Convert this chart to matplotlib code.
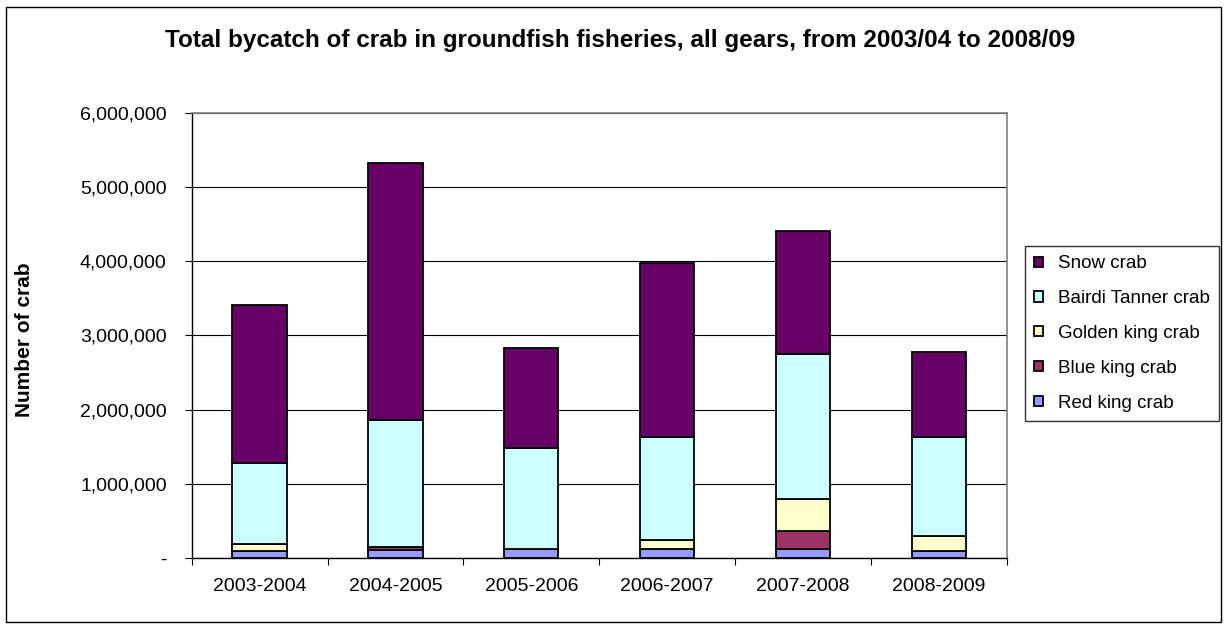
import matplotlib
matplotlib.use('Agg')
import matplotlib.pyplot as plt
import numpy as np
from matplotlib.ticker import FuncFormatter, FixedLocator
from matplotlib.patches import Rectangle

plt.rcParams['font.family'] = ['Liberation Sans', 'DejaVu Sans']

seasons = ['2003-2004', '2004-2005', '2005-2006', '2006-2007', '2007-2008', '2008-2009']
red_king = [98000, 111000, 125000, 121000, 121000, 98000]
blue_king = [0, 45000, 0, 0, 251000, 0]
golden_king = [98000, 0, 0, 126000, 431000, 202000]
bairdi = [1091000, 1710000, 1364000, 1390000, 1948000, 1337000]
snow = [2128000, 3452000, 1343000, 2335000, 1652000, 1141000]

series = [('Red king crab', red_king, '#9999FF'),
          ('Blue king crab', blue_king, '#993366'),
          ('Golden king crab', golden_king, '#FFFFCC'),
          ('Bairdi Tanner crab', bairdi, '#CCFFFF'),
          ('Snow crab', snow, '#660066')]

fig = plt.figure(figsize=(12.27, 6.24), dpi=100)
ax = fig.add_axes([0.1562, 0.1053, 0.6643, 0.7141])

x = np.arange(len(seasons))
bottom = np.zeros(len(seasons))
handles = []
for name, vals, col in series:
    b = ax.bar(x, vals, 0.4, bottom=bottom, color=col, edgecolor='black',
               linewidth=1.3, label=name, zorder=3)
    handles.append(b)
    bottom += np.array(vals)

ax.set_xlim(-0.5, 5.5)
ax.set_ylim(0, 6000000)
ax.set_yticks(np.arange(0, 6000001, 1000000))
ax.yaxis.set_major_formatter(FuncFormatter(lambda v, p: '-' if v == 0 else '{:,.0f}'.format(v)))
ax.yaxis.grid(True, color='black', linewidth=0.8, zorder=0)
ax.set_xticks(x)
ax.set_xticklabels(seasons)
ax.xaxis.set_minor_locator(FixedLocator(np.arange(-0.5, 6, 1)))
ax.tick_params(axis='x', which='major', length=0, pad=14, labelsize=14)
ax.tick_params(axis='x', which='minor', length=5, width=0.8, direction='out')
ax.tick_params(axis='y', length=5, width=0.8, direction='out', labelsize=14, pad=13)

for s in ['top', 'right']:
    ax.spines[s].set_color('#808080')
    ax.spines[s].set_linewidth(1.2)
for s in ['left', 'bottom']:
    ax.spines[s].set_color('black')
    ax.spines[s].set_linewidth(1.0)

fig.text(25 / 1227, 0.455, 'Number of crab', rotation=90, ha='center', va='center',
         fontsize=15, fontweight='bold')
fig.text(0.505, 0.935, 'Total bycatch of crab in groundfish fisheries, all gears, from 2003/04 to 2008/09',
         ha='center', va='center', fontsize=17.5, fontweight='bold')

leg = fig.legend(handles[::-1], [s[0] for s in series][::-1],
                 loc='upper left', bbox_to_anchor=(0.8354, 0.6058), borderaxespad=0,
                 fontsize=13.5, frameon=True, fancybox=False, edgecolor='black',
                 handlelength=0.45, handleheight=0.45, labelspacing=0.95,
                 borderpad=0.5, handletextpad=0.8)
leg.get_frame().set_linewidth(1.0)

# outer chart border
fig.patches.append(Rectangle((0.005, 0.004), 0.99, 0.985, transform=fig.transFigure,
                             fill=False, edgecolor='black', linewidth=1.0))

fig.savefig('out.png', dpi=100)
